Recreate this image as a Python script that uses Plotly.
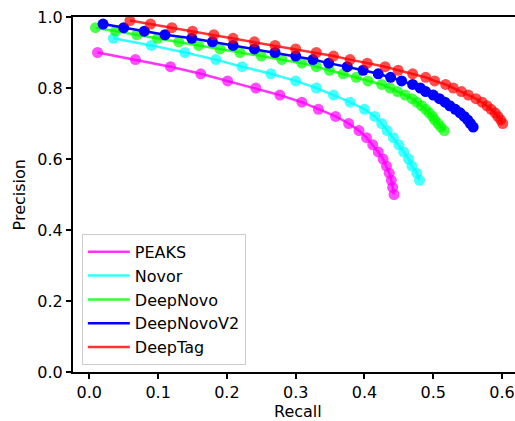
import plotly.graph_objects as go

# ---- data ----
peaks_recall = [0.012, 0.067, 0.118, 0.162, 0.201, 0.242, 0.277, 0.309, 0.333, 0.358,
                0.377, 0.392, 0.403, 0.412, 0.420, 0.427, 0.432, 0.436, 0.439, 0.441, 0.443]
peaks_precision = [0.90, 0.88, 0.86, 0.84, 0.82, 0.80, 0.78, 0.76, 0.74, 0.72,
                   0.70, 0.68, 0.66, 0.64, 0.62, 0.60, 0.58, 0.56, 0.54, 0.52, 0.50]

novor_recall = [0.035, 0.090, 0.139, 0.184, 0.222, 0.264, 0.300, 0.330, 0.355, 0.379,
                0.400, 0.415, 0.425, 0.433, 0.442, 0.450, 0.457, 0.464, 0.469, 0.476, 0.480]
novor_precision = [0.94, 0.92, 0.90, 0.88, 0.86, 0.84, 0.82, 0.80, 0.78, 0.76,
                   0.74, 0.72, 0.70, 0.68, 0.66, 0.64, 0.62, 0.60, 0.58, 0.56, 0.54]

deepnovo_recall = [0.009, 0.038, 0.069, 0.099, 0.130, 0.159, 0.190, 0.219, 0.250, 0.280,
                   0.309, 0.330, 0.349, 0.369, 0.388, 0.405, 0.425, 0.437, 0.448, 0.459,
                   0.469, 0.476, 0.483, 0.489, 0.494, 0.499, 0.502, 0.507, 0.511, 0.516]
deepnovo_precision = [0.97, 0.96, 0.95, 0.94, 0.93, 0.92, 0.91, 0.90, 0.89, 0.88,
                      0.87, 0.86, 0.85, 0.84, 0.83, 0.82, 0.81, 0.80, 0.79, 0.78,
                      0.77, 0.76, 0.75, 0.74, 0.73, 0.72, 0.71, 0.70, 0.69, 0.68]

deepnovov2_recall = [0.020, 0.050, 0.080, 0.110, 0.149, 0.179, 0.209, 0.240, 0.270, 0.300,
                     0.325, 0.348, 0.375, 0.398, 0.420, 0.438, 0.454, 0.470, 0.481, 0.489,
                     0.500, 0.509, 0.517, 0.524, 0.532, 0.539, 0.545, 0.550, 0.554, 0.558]
deepnovov2_precision = [0.98, 0.97, 0.96, 0.95, 0.94, 0.93, 0.92, 0.91, 0.90, 0.89,
                        0.88, 0.87, 0.86, 0.85, 0.84, 0.83, 0.82, 0.81, 0.80, 0.79,
                        0.78, 0.77, 0.76, 0.75, 0.74, 0.73, 0.72, 0.71, 0.70, 0.69]

deeptag_recall = [0.059, 0.089, 0.120, 0.150, 0.181, 0.209, 0.240, 0.270, 0.300, 0.330,
                  0.355, 0.379, 0.404, 0.430, 0.449, 0.470, 0.489, 0.502, 0.518, 0.529,
                  0.541, 0.551, 0.562, 0.571, 0.578, 0.584, 0.590, 0.594, 0.598, 0.601]
deeptag_precision = [0.99, 0.98, 0.97, 0.96, 0.95, 0.94, 0.93, 0.92, 0.91, 0.90,
                     0.89, 0.88, 0.87, 0.86, 0.85, 0.84, 0.83, 0.82, 0.81, 0.80,
                     0.79, 0.78, 0.77, 0.76, 0.75, 0.74, 0.73, 0.72, 0.71, 0.70]

series_names = ["PEAKS", "Novor", "DeepNovo", "DeepNovoV2", "DeepTag"]
x_ticks = [0.0, 0.1, 0.2, 0.3, 0.4, 0.5, 0.6]
y_ticks = [0.0, 0.2, 0.4, 0.6, 0.8, 1.0]

# ---- styles ----
series = [
    (series_names[0], peaks_recall, peaks_precision, "255,0,255", 0.8, 0.7),
    (series_names[1], novor_recall, novor_precision, "0,255,255", 0.8, 0.7),
    (series_names[2], deepnovo_recall, deepnovo_precision, "0,255,0", 0.8, 0.7),
    (series_names[3], deepnovov2_recall, deepnovov2_precision, "0,0,255", 1.0, 1.0),
    (series_names[4], deeptag_recall, deeptag_precision, "255,0,0", 0.8, 0.7),
]

fig = go.Figure()
for name, xs, ys, rgb, la, ma in series:
    fig.add_trace(go.Scatter(
        x=xs, y=ys, mode="lines", name=name,
        line=dict(color=f"rgba({rgb},{la})", width=2.5),
        showlegend=True, cliponaxis=False,
    ))
    fig.add_trace(go.Scatter(
        x=xs, y=ys, mode="markers", name=name,
        marker=dict(color=f"rgba({rgb},{ma})", size=11, line=dict(width=0)),
        showlegend=False, cliponaxis=False,
    ))

font = dict(family="DejaVu Sans", size=16, color="black")

fig.update_layout(
    width=515, height=421,
    margin=dict(l=73, r=0, t=17, b=49),
    paper_bgcolor="white", plot_bgcolor="white",
    font=font,
    showlegend=True,
    legend=dict(
        x=0.02, y=0.02, xanchor="left", yanchor="bottom",
        bgcolor="rgba(255,255,255,0.8)", bordercolor="#cccccc", borderwidth=1,
        font=font, tracegroupgap=0, itemwidth=42,
    ),
    xaxis=dict(
        range=[-0.0237, 0.6188], tickvals=x_ticks, ticktext=[f"{v:.1f}" for v in x_ticks],
        showgrid=False, zeroline=False, showline=True, linecolor="black", linewidth=2,
        mirror=True, ticks="outside", ticklen=5, tickwidth=1.5, tickcolor="black",
        tickfont=font,
    ),
    yaxis=dict(
        range=[0, 1.0], tickvals=y_ticks, ticktext=[f"{v:.1f}" for v in y_ticks],
        showgrid=False, zeroline=False, showline=True, linecolor="black", linewidth=2,
        ticks="outside", ticklen=5, tickwidth=1.5, tickcolor="black",
        tickfont=font,
    ),
    annotations=[
        dict(text="Recall", xref="paper", yref="paper", x=0.509, y=-0.11,
             xanchor="center", yanchor="middle", showarrow=False, font=font),
        dict(text="Precision", xref="paper", yref="paper", x=-0.12, y=0.5,
             xanchor="center", yanchor="middle", textangle=-90, showarrow=False, font=font),
    ],
)

fig.write_html(
    "out.html",
    config={"displayModeBar": False},
    post_script="document.body.style.margin='0';document.body.style.overflow='hidden';",
)
